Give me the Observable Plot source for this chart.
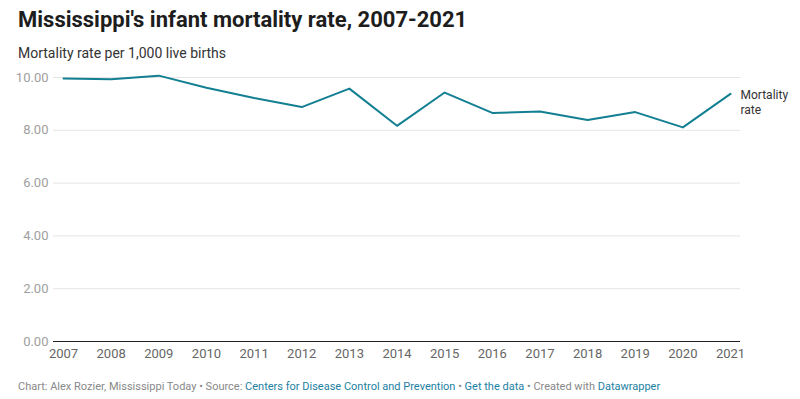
<!DOCTYPE html>
<html><head><meta charset="utf-8">
<script src="https://cdn.jsdelivr.net/npm/d3@7"></script>
<script src="https://cdn.jsdelivr.net/npm/@observablehq/plot@0.6"></script>
<style>
html,body{margin:0;padding:0;background:#fff;font-family:Roboto,sans-serif;width:800px;height:399px;overflow:hidden;position:relative}
#title{position:absolute;left:18px;top:7px;font-size:22px;font-weight:700;color:#1d1d1d;white-space:nowrap}
#sub{position:absolute;left:18px;top:45px;font-size:14px;color:#333;white-space:nowrap}
#chart{position:absolute;left:0;top:62px}
#foot{position:absolute;left:18px;top:380px;font-size:11px;color:#888;white-space:nowrap;letter-spacing:0}
#foot a{color:#1d81a2;text-decoration:none}
</style></head>
<body>
<div id="title">Mississippi's infant mortality rate, 2007-2021</div>
<div id="sub">Mortality rate per 1,000 live births</div>
<div id="chart"></div>
<div id="foot">Chart: Alex Rozier, Mississippi Today • Source: <a>Centers for Disease Control and Prevention</a> • <a>Get the data</a> • Created with <a>Datawrapper</a></div>
<script>
const years = [2007,2008,2009,2010,2011,2012,2013,2014,2015,2016,2017,2018,2019,2020,2021];
const rates = [9.96,9.93,10.07,9.61,9.22,8.88,9.58,8.17,9.43,8.66,8.71,8.39,8.69,8.11,9.38];
const yTicks = [0,2,4,6,8,10];
const seriesLabel = "Mortality\nrate";

const data = years.map((y,i)=>({year:y, rate:rates[i]}));
const last = data[data.length-1];

const plot = Plot.plot({
  width: 800,
  height: 305,
  marginTop: 15,
  marginBottom: 26,
  marginLeft: 53,
  marginRight: 60,
  style: {fontFamily: "Roboto, sans-serif", background: "transparent"},
  x: {type: "linear", domain: [2007, 2021], inset: 10, ticks: years, tickFormat: d => String(d), label: null},
  y: {domain: [0, 10], ticks: yTicks, tickFormat: d3.format(".2f"), label: null},
  marks: [
    Plot.ruleY(yTicks.filter(d => d !== 0), {stroke: "#e5e5e5", strokeWidth: 1}),
    Plot.axisY({ticks: yTicks, tickSize: 0, tickPadding: 5, fontSize: 13, fill: "#a0a0a0", tickFormat: d3.format(".2f"), label: null}),
    Plot.axisX({ticks: years, tickSize: 0, tickPadding: 7, fontSize: 13, fill: "#666", tickFormat: d => String(d), label: null}),
    Plot.ruleY([0], {stroke: "#222", strokeWidth: 1}),
    Plot.line(data, {x: "year", y: "rate", stroke: "#137f92", strokeWidth: 2}),
    Plot.text([last], {x: "year", y: "rate", text: () => seriesLabel, textAnchor: "start", lineAnchor: "top", dx: 10, dy: -6, fontSize: 12, lineHeight: 1.25, fill: "#333"})
  ]
});
document.getElementById("chart").appendChild(plot);
</script>
</body></html>
